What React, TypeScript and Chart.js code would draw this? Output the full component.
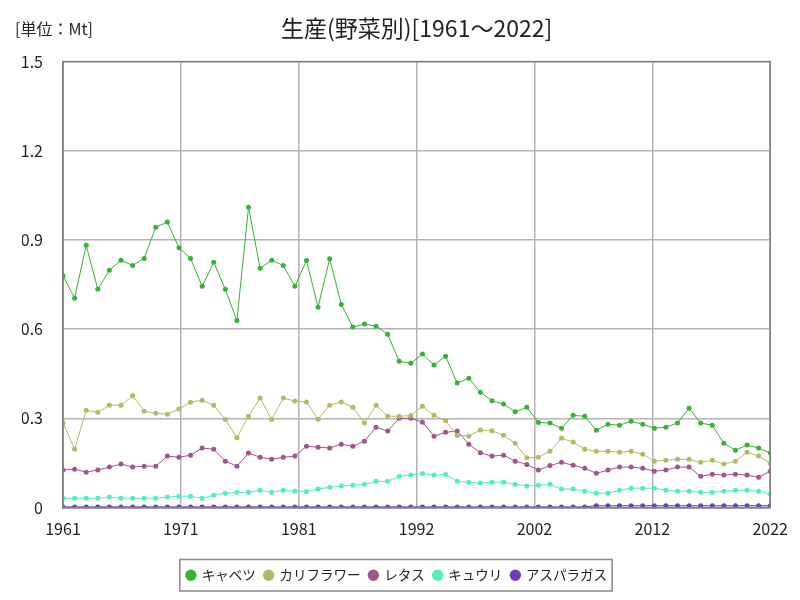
import React, { useEffect, useRef } from "react";
import { Chart, registerables } from "chart.js";

Chart.register(...registerables);

const years: number[] = Array.from({ length: 62 }, (_, i) => 1961 + i);

const seriesNames = ["キャベツ", "カリフラワー", "レタス", "キュウリ", "アスパラガス"];
const seriesColors = ["#36b336", "#b3ba66", "#a0558e", "#52f0b4", "#6a3ec0"];

const cabbage = [
  0.780, 0.704, 0.882, 0.734, 0.798, 0.832, 0.814, 0.838, 0.943, 0.960,
  0.874, 0.838, 0.744, 0.825, 0.734, 0.629, 1.010, 0.805, 0.832, 0.814,
  0.744, 0.831, 0.674, 0.837, 0.683, 0.607, 0.617, 0.610, 0.583, 0.492,
  0.485, 0.516, 0.479, 0.509, 0.419, 0.435, 0.388, 0.359, 0.348, 0.322,
  0.337, 0.286, 0.284, 0.267, 0.310, 0.307, 0.260, 0.280, 0.277, 0.290,
  0.280, 0.267, 0.270, 0.284, 0.334, 0.284, 0.277, 0.216, 0.193, 0.210,
  0.200, 0.183,
];
const cauliflower = [
  0.285, 0.196, 0.327, 0.320, 0.344, 0.344, 0.376, 0.324, 0.317, 0.314,
  0.331, 0.354, 0.361, 0.344, 0.296, 0.235, 0.307, 0.368, 0.296, 0.368,
  0.358, 0.355, 0.297, 0.344, 0.355, 0.337, 0.284, 0.344, 0.307, 0.307,
  0.309, 0.341, 0.310, 0.292, 0.242, 0.240, 0.261, 0.258, 0.243, 0.216,
  0.167, 0.169, 0.189, 0.233, 0.220, 0.196, 0.189, 0.189, 0.186, 0.189,
  0.179, 0.156, 0.159, 0.162, 0.162, 0.152, 0.159, 0.146, 0.156, 0.186,
  0.173, 0.149,
];
const lettuce = [
  0.126, 0.129, 0.119, 0.126, 0.136, 0.146, 0.136, 0.139, 0.139, 0.173,
  0.169, 0.176, 0.200, 0.196, 0.156, 0.139, 0.183, 0.169, 0.162, 0.169,
  0.173, 0.206, 0.203, 0.200, 0.213, 0.206, 0.223, 0.270, 0.257, 0.300,
  0.300, 0.287, 0.240, 0.253, 0.257, 0.213, 0.184, 0.173, 0.176, 0.156,
  0.145, 0.126, 0.141, 0.152, 0.142, 0.132, 0.115, 0.126, 0.136, 0.136,
  0.132, 0.122, 0.126, 0.136, 0.136, 0.105, 0.112, 0.109, 0.112, 0.109,
  0.102, 0.122,
];
const cucumber = [
  0.031, 0.031, 0.031, 0.031, 0.035, 0.031, 0.031, 0.031, 0.031, 0.035,
  0.038, 0.038, 0.031, 0.041, 0.048, 0.051, 0.051, 0.058, 0.051, 0.058,
  0.055, 0.054, 0.062, 0.068, 0.072, 0.075, 0.078, 0.088, 0.088, 0.105,
  0.109, 0.114, 0.109, 0.111, 0.088, 0.085, 0.082, 0.085, 0.085, 0.077,
  0.072, 0.075, 0.078, 0.062, 0.062, 0.055, 0.048, 0.048, 0.058, 0.065,
  0.065, 0.065, 0.058, 0.055, 0.055, 0.051, 0.051, 0.055, 0.058, 0.058,
  0.055, 0.045,
];
const asparagus = [
  0.002, 0.002, 0.002, 0.002, 0.002, 0.002, 0.002, 0.002, 0.002, 0.002,
  0.002, 0.002, 0.002, 0.002, 0.002, 0.002, 0.002, 0.002, 0.002, 0.002,
  0.002, 0.002, 0.002, 0.002, 0.002, 0.002, 0.002, 0.002, 0.002, 0.002,
  0.002, 0.002, 0.002, 0.002, 0.002, 0.002, 0.002, 0.002, 0.002, 0.002,
  0.002, 0.002, 0.002, 0.002, 0.002, 0.002, 0.006, 0.006, 0.006, 0.006,
  0.006, 0.006, 0.006, 0.006, 0.006, 0.006, 0.006, 0.006, 0.006, 0.006,
  0.006, 0.006,
];

const allSeries = [cabbage, cauliflower, lettuce, cucumber, asparagus];

const titleText = "生産(野菜別)[1961〜2022]";
const unitText = "[単位：Mt]";
const FONT = "'Noto Sans CJK JP', 'Noto Sans', sans-serif";

const frameAndUnitPlugin = {
  id: "frameAndUnit",
  afterDraw(chart: any) {
    const { ctx, chartArea } = chart;
    ctx.save();
    ctx.strokeStyle = "#808080";
    ctx.lineWidth = 1.5;
    ctx.strokeRect(chartArea.left, chartArea.top, chartArea.right - chartArea.left, chartArea.bottom - chartArea.top);
    ctx.fillStyle = "#222";
    ctx.font = `16px ${FONT}`;
    ctx.textBaseline = "middle";
    ctx.textAlign = "left";
    ctx.fillText(unitText, 15, 29);
    const lg = chart.legend;
    if (lg && lg.legendHitBoxes && lg.legendHitBoxes.length) {
      const hb = lg.legendHitBoxes;
      let l = Infinity, r = -Infinity, t = Infinity, b = -Infinity;
      hb.forEach((h: any) => {
        l = Math.min(l, h.left);
        r = Math.max(r, h.left + h.width);
        t = Math.min(t, h.top);
        b = Math.max(b, h.top + h.height);
      });
      ctx.strokeStyle = "#888";
      ctx.lineWidth = 1.5;
      ctx.strokeRect(l - 7, t - 9, r - l + 12, b - t + 18);
    }
    ctx.restore();
  },
};

export default function App() {
  const ref = useRef<HTMLCanvasElement | null>(null);
  useEffect(() => {
    document.body.style.margin = "0";
    const canvas = ref.current!;
    const chart = new Chart(canvas, {
      type: "line",
      data: {
        datasets: allSeries.map((vals, i) => ({
          label: seriesNames[i],
          data: vals.map((v, j) => ({ x: years[j], y: v })),
          borderColor: seriesColors[i],
          backgroundColor: seriesColors[i],
          pointBackgroundColor: seriesColors[i],
          pointBorderColor: seriesColors[i],
          borderWidth: 1,
          pointRadius: 2.5,
          pointBorderWidth: 0,
          tension: 0,
          fill: false,
        })),
      },
      options: {
        animation: false,
        responsive: false,
        maintainAspectRatio: false,
        layout: { padding: { top: 14, right: 28, left: 22, bottom: 8 } },
        plugins: {
          title: {
            display: true,
            text: titleText,
            fullSize: false,
            color: "#222",
            font: { family: FONT, size: 23, weight: "normal" },
            padding: { top: 0, bottom: 20 },
          },
          legend: {
            position: "bottom",
            labels: {
              usePointStyle: true,
              pointStyle: "circle",
              boxWidth: 8,
              boxHeight: 8,
              color: "#222",
              padding: 9,
              font: { family: FONT, size: 13.5 },
            },
          },
          tooltip: { enabled: false },
        },
        scales: {
          x: {
            type: "linear",
            min: 1961,
            max: 2022,
            afterBuildTicks: (scale: any) => {
              scale.ticks = [0, 1, 2, 3, 4, 5, 6].map((k) => ({ value: 1961 + (61 * k) / 6 }));
            },
            afterFit: (scale: any) => {
              scale.height = 52;
            },
            ticks: {
              color: "#222",
              font: { family: FONT, size: 16 },
              padding: 12,
              maxRotation: 0,
              callback: (v: any) => String(Math.round(Number(v))),
            },
            grid: { color: "#b4b4b4", lineWidth: 1.5, drawTicks: false },
            border: { color: "#808080", width: 1.5 },
          },
          y: {
            min: 0,
            max: 1.5,
            afterFit: (scale: any) => {
              scale.width = 41;
            },
            ticks: {
              stepSize: 0.3,
              color: "#222",
              font: { family: FONT, size: 16 },
              padding: 20,
              callback: (v: any) => String(Number(Number(v).toFixed(1))),
            },
            grid: { color: "#b4b4b4", lineWidth: 1.5, drawTicks: false },
            border: { color: "#808080", width: 1.5 },
          },
        },
      },
      plugins: [frameAndUnitPlugin],
    } as any);
    return () => chart.destroy();
  }, []);
  return (
    <div style={{ width: 800, height: 600 }}>
      <canvas ref={ref} width={800} height={600} style={{ width: 800, height: 600 }} />
    </div>
  );
}
